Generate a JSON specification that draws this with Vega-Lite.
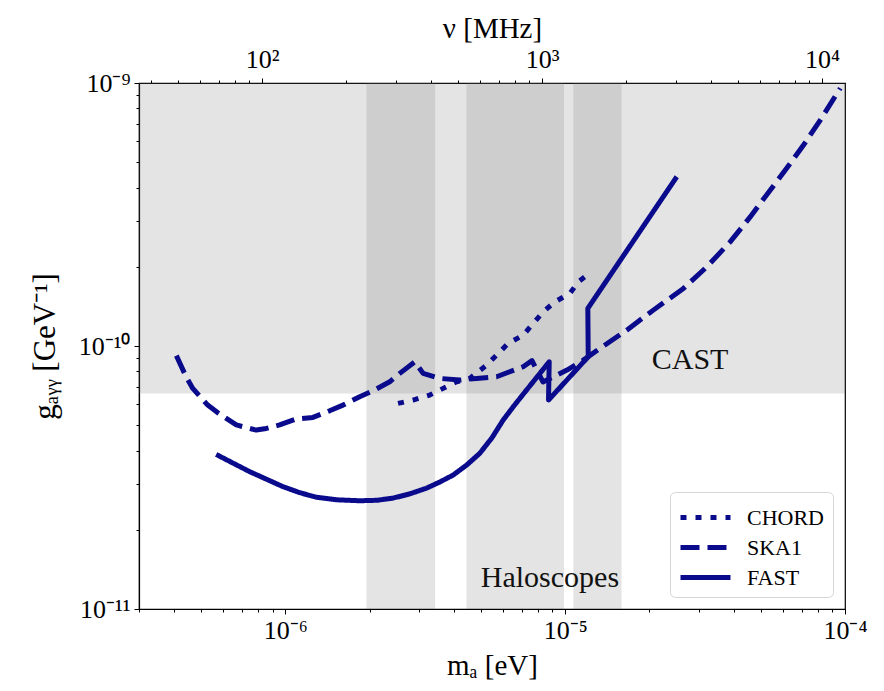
{
  "$schema": "https://vega.github.io/schema/vega-lite/v6.json",
  "width": 706,
  "height": 526,
  "autosize": "none",
  "padding": {"left": 139, "top": 83, "right": 39, "bottom": 82},
  "background": "white",
  "config": {
    "font": "Liberation Serif",
    "view": {"stroke": "black", "strokeWidth": 1.2},
    "axis": {
      "labelFont": "Liberation Serif",
      "titleFont": "Liberation Serif",
      "labelColor": "black",
      "titleColor": "black",
      "domainColor": "black",
      "domainWidth": 1.2,
      "tickColor": "black",
      "tickWidth": 1,
      "grid": false,
      "labelFontSize": 26,
      "titleFontSize": 29,
      "titleFontWeight": "normal",
      "labelOverlap": false,
      "labelFlush": false
    },
    "legend": {
      "orient": "bottom-right",
      "offset": 12,
      "symbolType": "M-1.6667,0L1.6667,0",
      "symbolSize": 900,
      "symbolOffset": 10,
      "symbolStrokeWidth": 5,
      "symbolStrokeColor": "#0a0a8c",
      "symbolFillColor": "transparent",
      "labelFont": "Liberation Serif",
      "labelFontSize": 22,
      "labelColor": "black",
      "labelOffset": 24,
      "padding": 8,
      "rowPadding": 1,
      "strokeColor": "#d6d6d6",
      "cornerRadius": 5,
      "fillColor": "white"
    }
  },
  "datasets": {
    "bands": [
      {"region": "CAST", "m1": 3e-7, "m2": 1e-4, "g1": 6.6e-11, "g2": 1e-9},
      {"region": "Haloscopes", "m1": 1.95e-6, "m2": 3.43e-6, "g1": 1e-11, "g2": 1e-9},
      {"region": "Haloscopes", "m1": 4.44e-6, "m2": 9.9e-6, "g1": 1e-11, "g2": 1e-9},
      {"region": "Haloscopes", "m1": 1.07e-5, "m2": 1.59e-5, "g1": 1e-11, "g2": 1e-9}
    ],
    "curves": [
      {"series": "CHORD", "i": 1, "m": 2.528e-6, "g": 6.05e-11},
      {"series": "CHORD", "i": 2, "m": 2.861e-6, "g": 6.23e-11},
      {"series": "CHORD", "i": 3, "m": 3.282e-6, "g": 6.51e-11},
      {"series": "CHORD", "i": 4, "m": 3.664e-6, "g": 6.9e-11},
      {"series": "CHORD", "i": 5, "m": 4.09e-6, "g": 7.31e-11},
      {"series": "CHORD", "i": 6, "m": 4.563e-6, "g": 7.53e-11},
      {"series": "CHORD", "i": 7, "m": 5.237e-6, "g": 8.46e-11},
      {"series": "CHORD", "i": 8, "m": 5.687e-6, "g": 9.23e-11},
      {"series": "CHORD", "i": 9, "m": 6.256e-6, "g": 1.023e-10},
      {"series": "CHORD", "i": 10, "m": 7.08e-6, "g": 1.1e-10},
      {"series": "CHORD", "i": 11, "m": 7.69e-6, "g": 1.219e-10},
      {"series": "CHORD", "i": 12, "m": 8.35e-6, "g": 1.349e-10},
      {"series": "CHORD", "i": 13, "m": 9.19e-6, "g": 1.472e-10},
      {"series": "CHORD", "i": 14, "m": 1.04e-5, "g": 1.585e-10},
      {"series": "CHORD", "i": 15, "m": 1.114e-5, "g": 1.753e-10},
      {"series": "CHORD", "i": 16, "m": 1.237e-5, "g": 1.909e-10},
      {"series": "SKA1", "i": 1, "m": 4.08e-7, "g": 9.19e-11},
      {"series": "SKA1", "i": 2, "m": 4.42e-7, "g": 7.64e-11},
      {"series": "SKA1", "i": 3, "m": 4.67e-7, "g": 6.9e-11},
      {"series": "SKA1", "i": 4, "m": 5.28e-7, "g": 5.96e-11},
      {"series": "SKA1", "i": 5, "m": 5.74e-7, "g": 5.57e-11},
      {"series": "SKA1", "i": 6, "m": 6.68e-7, "g": 5.01e-11},
      {"series": "SKA1", "i": 7, "m": 7.87e-7, "g": 4.79e-11},
      {"series": "SKA1", "i": 8, "m": 8.55e-7, "g": 4.86e-11},
      {"series": "SKA1", "i": 9, "m": 9.54e-7, "g": 5.01e-11},
      {"series": "SKA1", "i": 10, "m": 1.095e-6, "g": 5.28e-11},
      {"series": "SKA1", "i": 11, "m": 1.255e-6, "g": 5.35e-11},
      {"series": "SKA1", "i": 12, "m": 1.44e-6, "g": 5.67e-11},
      {"series": "SKA1", "i": 13, "m": 1.607e-6, "g": 5.96e-11},
      {"series": "SKA1", "i": 14, "m": 1.844e-6, "g": 6.41e-11},
      {"series": "SKA1", "i": 15, "m": 2.058e-6, "g": 6.76e-11},
      {"series": "SKA1", "i": 16, "m": 2.361e-6, "g": 7.31e-11},
      {"series": "SKA1", "i": 17, "m": 2.564e-6, "g": 7.87e-11},
      {"series": "SKA1", "i": 18, "m": 2.902e-6, "g": 8.71e-11},
      {"series": "SKA1", "i": 19, "m": 3.107e-6, "g": 7.87e-11},
      {"series": "SKA1", "i": 20, "m": 3.565e-6, "g": 7.53e-11},
      {"series": "SKA1", "i": 21, "m": 4.204e-6, "g": 7.42e-11},
      {"series": "SKA1", "i": 22, "m": 4.825e-6, "g": 7.53e-11},
      {"series": "SKA1", "i": 23, "m": 5.687e-6, "g": 7.64e-11},
      {"series": "SKA1", "i": 24, "m": 7.08e-6, "g": 8.34e-11},
      {"series": "SKA1", "i": 25, "m": 7.61e-6, "g": 8.8e-11},
      {"series": "SKA1", "i": 26, "m": 8.33e-6, "g": 7.3e-11},
      {"series": "SKA1", "i": 27, "m": 1.015e-5, "g": 8.1e-11},
      {"series": "SKA1", "i": 28, "m": 1.161e-5, "g": 8.84e-11},
      {"series": "SKA1", "i": 29, "m": 1.332e-5, "g": 9.79e-11},
      {"series": "SKA1", "i": 30, "m": 1.66e-5, "g": 1.149e-10},
      {"series": "SKA1", "i": 31, "m": 2.066e-5, "g": 1.369e-10},
      {"series": "SKA1", "i": 32, "m": 2.646e-5, "g": 1.655e-10},
      {"series": "SKA1", "i": 33, "m": 3.208e-5, "g": 2.0e-10},
      {"series": "SKA1", "i": 34, "m": 3.887e-5, "g": 2.488e-10},
      {"series": "SKA1", "i": 35, "m": 4.584e-5, "g": 3.097e-10},
      {"series": "SKA1", "i": 36, "m": 5.402e-5, "g": 3.911e-10},
      {"series": "SKA1", "i": 37, "m": 6.372e-5, "g": 4.941e-10},
      {"series": "SKA1", "i": 38, "m": 7.11e-5, "g": 5.81e-10},
      {"series": "SKA1", "i": 39, "m": 8.16e-5, "g": 7.23e-10},
      {"series": "SKA1", "i": 40, "m": 9.62e-5, "g": 9.55e-10},
      {"series": "FAST", "i": 1, "m": 5.66e-7, "g": 3.87e-11},
      {"series": "FAST", "i": 2, "m": 7.45e-7, "g": 3.33e-11},
      {"series": "FAST", "i": 3, "m": 9.8e-7, "g": 2.92e-11},
      {"series": "FAST", "i": 4, "m": 1.125e-6, "g": 2.77e-11},
      {"series": "FAST", "i": 5, "m": 1.291e-6, "g": 2.66e-11},
      {"series": "FAST", "i": 6, "m": 1.539e-6, "g": 2.6e-11},
      {"series": "FAST", "i": 7, "m": 1.844e-6, "g": 2.58e-11},
      {"series": "FAST", "i": 8, "m": 2.122e-6, "g": 2.59e-11},
      {"series": "FAST", "i": 9, "m": 2.426e-6, "g": 2.64e-11},
      {"series": "FAST", "i": 10, "m": 2.784e-6, "g": 2.74e-11},
      {"series": "FAST", "i": 11, "m": 3.195e-6, "g": 2.88e-11},
      {"series": "FAST", "i": 12, "m": 3.565e-6, "g": 3.04e-11},
      {"series": "FAST", "i": 13, "m": 3.978e-6, "g": 3.23e-11},
      {"series": "FAST", "i": 14, "m": 4.452e-6, "g": 3.53e-11},
      {"series": "FAST", "i": 15, "m": 4.956e-6, "g": 3.91e-11},
      {"series": "FAST", "i": 16, "m": 5.47e-6, "g": 4.47e-11},
      {"series": "FAST", "i": 17, "m": 6.005e-6, "g": 5.23e-11},
      {"series": "FAST", "i": 18, "m": 6.56e-6, "g": 5.92e-11},
      {"series": "FAST", "i": 19, "m": 7.18e-6, "g": 6.68e-11},
      {"series": "FAST", "i": 20, "m": 8.77e-6, "g": 8.71e-11},
      {"series": "FAST", "i": 21, "m": 8.72e-6, "g": 6.23e-11},
      {"series": "FAST", "i": 22, "m": 1.209e-5, "g": 9.1e-11},
      {"series": "FAST", "i": 23, "m": 1.205e-5, "g": 1.39e-10},
      {"series": "FAST", "i": 24, "m": 2.505e-5, "g": 4.4e-10}
    ],
    "labels": [
      {"label": "CAST", "m": 2.795e-5, "g": 8.84e-11},
      {"label": "Haloscopes", "m": 8.82e-6, "g": 1.312e-11}
    ],
    "topaxis": [
      {"nu": 100}
    ]
  },
  "layer": [
    {
      "layer": [
        {
          "data": {"name": "bands"},
          "mark": {"type": "rect", "fill": "#6d6d6d", "fillOpacity": 0.185, "strokeWidth": 0},
          "encoding": {
            "x": {
              "field": "m1", "type": "quantitative",
              "scale": {"type": "log", "domain": [3e-7, 1e-4], "nice": false},
              "title": "mₐ [eV]",
              "axis": {
                "orient": "bottom",
                "values": [3e-7, 4e-7, 5e-7, 6e-7, 7e-7, 8e-7, 9e-7, 1e-6, 2e-6, 3e-6, 4e-6, 5e-6, 6e-6, 7e-6, 8e-6, 9e-6, 1e-5, 2e-5, 3e-5, 4e-5, 5e-5, 6e-5, 7e-5, 8e-5, 9e-5, 1e-4],
                "labelExpr": "datum.value === 1e-6 ? '10⁻⁶' : datum.value === 1e-5 ? '10⁻⁵' : datum.value === 1e-4 ? '10⁻⁴' : ''",
                "tickSize": {"condition": {"test": "abs(log(datum.value)/LN10 - round(log(datum.value)/LN10)) < 1e-6", "value": 5}, "value": 3},
                "labelPadding": 3,
                "titlePadding": 8
              }
            },
            "x2": {"field": "m2"},
            "y": {
              "field": "g1", "type": "quantitative",
              "scale": {"type": "log", "domain": [1e-11, 1e-9], "nice": false},
              "title": "gₐᵧᵧ [GeV⁻¹]",
              "axis": {
                "values": [1e-11, 2e-11, 3e-11, 4e-11, 5e-11, 6e-11, 7e-11, 8e-11, 9e-11, 1e-10, 2e-10, 3e-10, 4e-10, 5e-10, 6e-10, 7e-10, 8e-10, 9e-10, 1e-9],
                "labelExpr": "datum.value === 1e-11 ? '10⁻¹¹' : datum.value === 1e-10 ? '10⁻¹⁰' : datum.value === 1e-9 ? '10⁻⁹' : ''",
                "tickSize": {"condition": {"test": "abs(log(datum.value)/LN10 - round(log(datum.value)/LN10)) < 1e-6", "value": 5}, "value": 3},
                "labelPadding": 4,
                "titleFontSize": 31,
                "titlePadding": 17
              }
            },
            "y2": {"field": "g2"}
          }
        },
        {
          "data": {"name": "curves"},
          "mark": {"type": "line", "strokeWidth": 5, "color": "#0a0a8c", "strokeCap": "butt", "strokeJoin": "round"},
          "encoding": {
            "x": {"field": "m", "type": "quantitative", "title": "mₐ [eV]"},
            "y": {"field": "g", "type": "quantitative", "title": "gₐᵧᵧ [GeV⁻¹]"},
            "order": {"field": "i", "type": "quantitative"},
            "strokeDash": {
              "field": "series", "type": "nominal",
              "scale": {"domain": ["CHORD", "SKA1", "FAST"], "range": [[6, 9], [19, 8], [1, 0]]},
              "legend": {"title": null}
            }
          }
        },
        {
          "data": {"name": "labels"},
          "mark": {"type": "text", "font": "Liberation Serif", "fontSize": 30, "color": "#111111", "align": "center", "baseline": "middle"},
          "encoding": {
            "x": {"field": "m", "type": "quantitative", "title": "mₐ [eV]"},
            "y": {"field": "g", "type": "quantitative", "title": "gₐᵧᵧ [GeV⁻¹]"},
            "text": {"field": "label"}
          }
        }
      ]
    },
    {
      "data": {"name": "topaxis"},
      "mark": {"type": "point", "opacity": 0},
      "encoding": {
        "x": {
          "field": "nu", "type": "quantitative",
          "scale": {"type": "log", "domain": [36.27, 12090], "nice": false},
          "title": "ν [MHz]",
          "axis": {
            "orient": "top",
            "values": [40, 50, 60, 70, 80, 90, 100, 200, 300, 400, 500, 600, 700, 800, 900, 1000, 2000, 3000, 4000, 5000, 6000, 7000, 8000, 9000, 10000],
            "labelExpr": "datum.value === 100 ? '10²' : datum.value === 1000 ? '10³' : datum.value === 10000 ? '10⁴' : ''",
            "tickSize": {"condition": {"test": "abs(log(datum.value)/LN10 - round(log(datum.value)/LN10)) < 1e-6", "value": 5}, "value": 3},
            "labelPadding": 6,
            "titleY": -55,
            "titleBaseline": "middle"
          }
        }
      }
    }
  ],
  "resolve": {"scale": {"x": "independent"}, "axis": {"x": "independent"}}
}
